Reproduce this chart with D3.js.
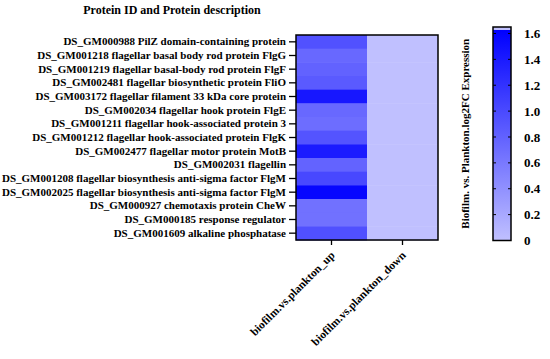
<!DOCTYPE html>
<html><head><meta charset="utf-8">
<script src="https://cdn.jsdelivr.net/npm/d3@7"></script>
<style>body{margin:0;background:#fff}svg{display:block}text{font-family:"Liberation Serif","Times New Roman",serif;font-weight:bold;fill:#000}</style>
</head><body>
<script>
const proteins = [
  "DS_GM000988 PilZ domain-containing protein",
  "DS_GM001218 flagellar basal body rod protein FlgG",
  "DS_GM001219 flagellar basal-body rod protein FlgF",
  "DS_GM002481 flagellar biosynthetic protein FliO",
  "DS_GM003172 flagellar filament 33 kDa core protein",
  "DS_GM002034 flagellar hook protein FlgE",
  "DS_GM001211 flagellar hook-associated protein 3",
  "DS_GM001212 flagellar hook-associated protein FlgK",
  "DS_GM002477 flagellar motor protein MotB",
  "DS_GM002031 flagellin",
  "DS_GM001208 flagellar biosynthesis anti-sigma factor FlgM",
  "DS_GM002025 flagellar biosynthesis anti-sigma factor FlgM",
  "DS_GM000927 chemotaxis protein CheW",
  "DS_GM000185 response regulator",
  "DS_GM001609 alkaline phosphatase"
];
const groups = ["biofilm.vs.plankton_up", "biofilm.vs.plankton_down"];
const upValues = [0.95, 0.76, 0.81, 0.88, 1.45, 0.76, 0.71, 0.93, 1.42, 0.80, 1.03, 1.60, 0.68, 0.68, 0.96];
const downValues = [0, 0, 0, 0, 0, 0, 0, 0, 0, 0, 0, 0, 0, 0, 0];
const colorTicks = [0, 0.2, 0.4, 0.6, 0.8, 1.0, 1.2, 1.4, 1.6];
const colorDomain = [0, 1.65];
const title = "Protein ID and Protein description";
const legendTitle = "Biofilm. vs. Plankton.log2FC Expression";

const W = 550, H = 359;
const svg = d3.select("body").append("svg").attr("width", W).attr("height", H);

const hm = {x0: 296, x1: 438, y0: 35, y1: 240};
const x = d3.scaleBand().domain(groups).range([hm.x0, hm.x1]);
const y = d3.scaleBand().domain(proteins).range([hm.y0, hm.y1]);
const color = d3.scaleLinear().domain(colorDomain).range(["#c0c0ff", "#0000ff"]);

const cells = [];
proteins.forEach((p, i) => {
  cells.push({p, g: groups[0], v: upValues[i]});
  cells.push({p, g: groups[1], v: downValues[i]});
});
svg.append("g").selectAll("rect").data(cells).join("rect")
  .attr("x", d => x(d.g)).attr("y", d => y(d.p))
  .attr("width", x.bandwidth()).attr("height", y.bandwidth() + 0.5)
  .attr("fill", d => color(d.v));

svg.append("rect").attr("x", hm.x0).attr("y", hm.y0)
  .attr("width", hm.x1 - hm.x0).attr("height", hm.y1 - hm.y0)
  .attr("fill", "none").attr("stroke", "#000").attr("stroke-width", 1.5);

// y axis
const ya = svg.append("g").attr("transform", `translate(${hm.x0},0)`)
  .call(d3.axisLeft(y).tickSize(7).tickPadding(3));
ya.select(".domain").remove();
ya.selectAll("line").attr("stroke", "#000").attr("stroke-width", 1.3);
ya.selectAll("text").style("font-size", "11px").attr("fill", "#000");

// x axis
const xa = svg.append("g").attr("transform", `translate(0,${hm.y1})`)
  .call(d3.axisBottom(x).tickSize(5).tickFormat(""));
xa.select(".domain").remove();
xa.selectAll("line").attr("stroke", "#000").attr("stroke-width", 1.3);
svg.append("g").selectAll("text").data(groups).join("text")
  .attr("transform", d => `translate(${x(d) + x.bandwidth() / 2 + 4},${hm.y1 + 16}) rotate(-45)`)
  .attr("text-anchor", "end")
  .style("font-size", "11.5px")
  .text(d => d);

// title
svg.append("text").attr("x", 172).attr("y", 14).attr("text-anchor", "middle")
  .style("font-size", "12px").text(title);

// colorbar
const cb = {x: 493, w: 18, y0: 27, y1: 240.5};
const cs = d3.scaleLinear().domain(colorDomain).range([cb.y1, cb.y0]);
const defs = svg.append("defs");
const grad = defs.append("linearGradient").attr("id", "cbg")
  .attr("x1", 0).attr("y1", 1).attr("x2", 0).attr("y2", 0);
grad.append("stop").attr("offset", "0%").attr("stop-color", color(colorDomain[0]));
grad.append("stop").attr("offset", "98.5%").attr("stop-color", color(colorDomain[1]));
grad.append("stop").attr("offset", "98.6%").attr("stop-color", color(colorDomain[0]));
grad.append("stop").attr("offset", "100%").attr("stop-color", color(colorDomain[0]));
svg.append("rect").attr("x", cb.x).attr("y", cb.y0).attr("width", cb.w).attr("height", cb.y1 - cb.y0)
  .attr("fill", "url(#cbg)");
const tg = svg.append("g").selectAll("g").data(colorTicks).join("g");
tg.append("line").attr("x1", cb.x).attr("x2", cb.x + 3)
  .attr("y1", d => cs(d)).attr("y2", d => cs(d)).attr("stroke", "#000").attr("stroke-width", 1);
tg.append("line").attr("x1", cb.x + cb.w - 3).attr("x2", cb.x + cb.w)
  .attr("y1", d => cs(d)).attr("y2", d => cs(d)).attr("stroke", "#000").attr("stroke-width", 1);
tg.append("text").attr("x", 524).attr("y", d => cs(d)).attr("dy", "0.35em")
  .style("font-size", "13px").text(d => d === 0 ? "0" : d3.format(".1f")(d));
svg.append("rect").attr("x", cb.x).attr("y", cb.y0).attr("width", cb.w).attr("height", cb.y1 - cb.y0)
  .attr("fill", "none").attr("stroke", "#000").attr("stroke-width", 1.5);

svg.append("text").attr("transform", `translate(469,${(cb.y0 + cb.y1) / 2}) rotate(-90)`)
  .attr("text-anchor", "middle").style("font-size", "11px").text(legendTitle);
</script>
</body></html>
